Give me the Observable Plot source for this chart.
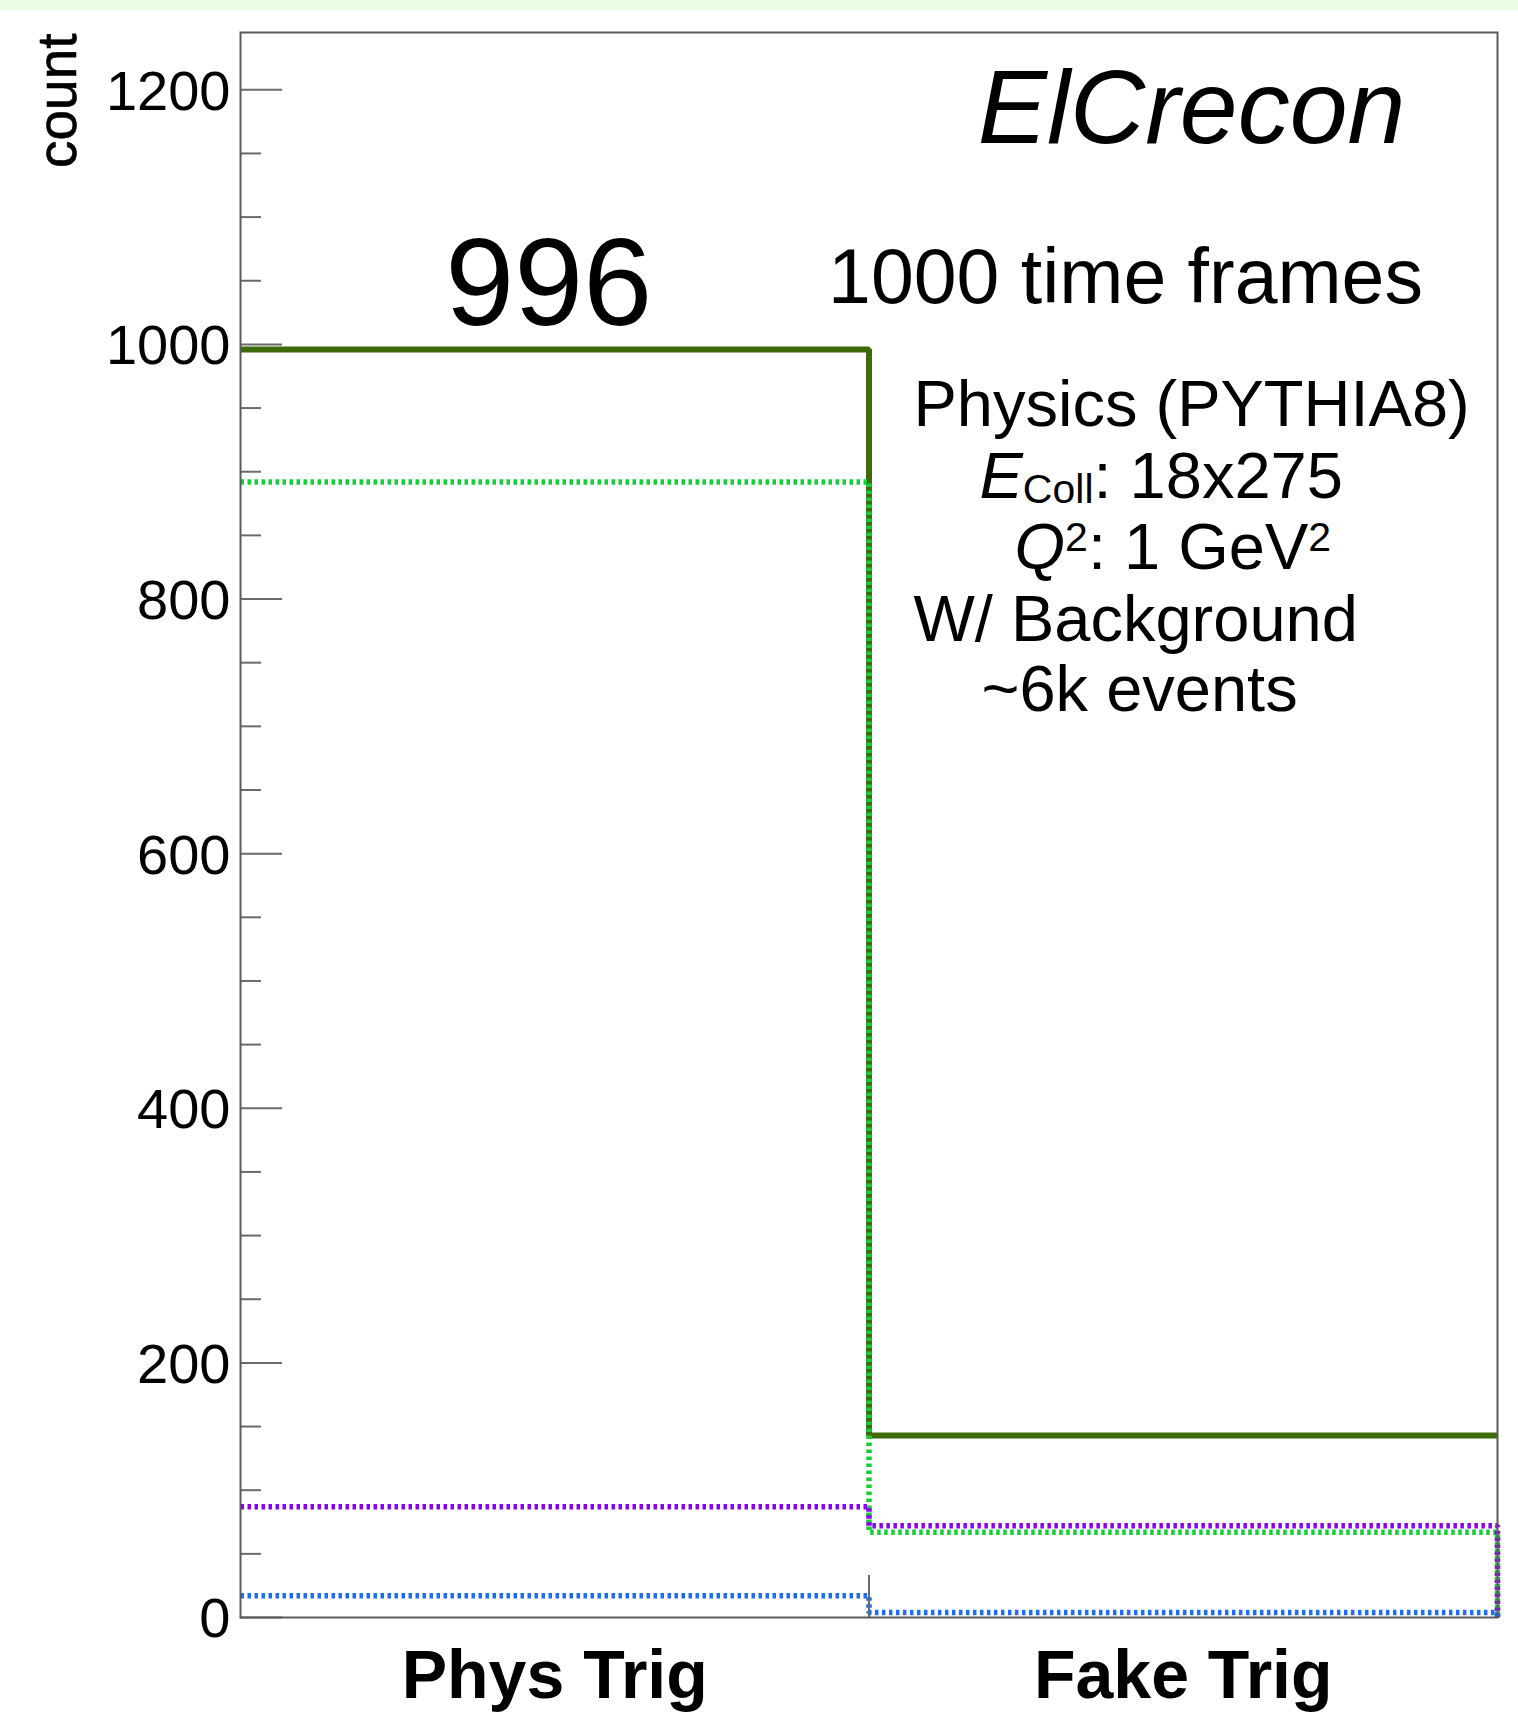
<!DOCTYPE html>
<html><head><meta charset="utf-8">
<script src="https://cdn.jsdelivr.net/npm/d3@7"></script>
<script src="https://cdn.jsdelivr.net/npm/@observablehq/plot@0.6"></script>
<style>
html,body{margin:0;padding:0;background:#fff;}
#band{height:10px;background:#ebfce2;}
#chart svg{display:block;}
</style></head><body>
<div id="band"></div>
<div id="chart"></div>
<script>
// ---- data ----
const categories = ["Phys Trig", "Fake Trig"];
const totalCounts = [996, 143];   // solid dark green (sum)
const greenCounts = [892, 67];    // dotted green
const purpleCounts = [87, 72];    // dotted purple
const blueCounts = [17, 4];       // dotted blue
const yMax = 1245;
const majorTicks = [0, 200, 400, 600, 800, 1000, 1200];
const minorTicks = [50, 100, 150, 250, 300, 350, 450, 500, 550, 650, 700, 750, 850, 900, 950, 1050, 1100, 1150];
const yLabel = "count";
const title = "ElCrecon";
const subtitle = "1000 time frames";
const infoLines = ["Physics (PYTHIA8)", "EColl: 18x275", "Q2: 1 GeV2", "W/ Background", "~6k events"];
const richText = {
  "EColl: 18x275": [{t: "E", italic: true}, {t: "Coll", sub: true}, {t: ": 18x275"}],
  "Q2: 1 GeV2": [{t: "Q", italic: true}, {t: "2", sup: true}, {t: ": 1 GeV"}, {t: "2", sup: true}]
};

// ---- histogram outlines built from bin values ----
function steps(vals, dropAtEnd) {
  const pts = [];
  vals.forEach((v, i) => { pts.push({x: i, y: v}, {x: i + 1, y: v}); });
  if (dropAtEnd) pts.push({x: vals.length, y: 0});
  return pts;
}

const FONT = "'Liberation Sans', Arial, Helvetica, sans-serif";
const dotted = {strokeWidth: 5.5, strokeDasharray: "3.5 3.5", strokeLinecap: "butt", strokeLinejoin: "miter"};

const infoPos = [[673, 393], [739, 465], [774, 536], [673, 608], [741, 678]];

const svg = Plot.plot({
  width: 1518,
  height: 1718,
  marginLeft: 240,
  marginRight: 21,
  marginTop: 22,
  marginBottom: 111,
  style: {fontFamily: FONT, background: "white", color: "black"},
  x: {domain: [0, categories.length], label: null},
  y: {domain: [0, yMax], label: null},
  marks: [
    // histograms
    Plot.line(steps(totalCounts, false), {x: "x", y: "y", stroke: "#3d6b0a", strokeWidth: 6, strokeLinecap: "butt", strokeLinejoin: "miter"}),
    Plot.line(steps(greenCounts, true), {x: "x", y: "y", stroke: "#14cf36", ...dotted}),
    Plot.line(steps(purpleCounts, true), {x: "x", y: "y", stroke: "#8b00f5", ...dotted}),
    Plot.line(steps(blueCounts, true), {x: "x", y: "y", stroke: "#1e6cf5", ...dotted}),
    // y axis ticks (inward) and labels
    Plot.axisY({ticks: majorTicks, tickSize: -42, tickFormat: () => "", label: null, stroke: "#6a6a6a", strokeWidth: 2}),
    Plot.axisY({ticks: minorTicks, tickSize: -21, tickFormat: () => "", label: null, stroke: "#6a6a6a", strokeWidth: 2}),
    Plot.axisY({ticks: majorTicks, tickSize: 0, tickPadding: 10, tickFormat: d => String(d), label: null,
      fontSize: 56, dy: 2, fill: "black", stroke: "black", strokeWidth: 0.6}),
    // x axis: bin boundary tick and category labels
    Plot.axisX({ticks: [1], tickSize: -42, tickFormat: () => "", label: null, stroke: "#6a6a6a", strokeWidth: 2}),
    Plot.axisX({ticks: categories.map((c, i) => i + 0.5), tickSize: 0, tickPadding: 32, label: null,
      tickFormat: t => categories[Math.floor(t)], fontSize: 68, fontWeight: "bold", fill: "black"}),
    // y label
    Plot.text([yLabel], {frameAnchor: "top-left", text: d => d, rotate: -90, textAnchor: "end", lineAnchor: "bottom",
      dx: -165, dy: 1, fontSize: 55, fill: "black", stroke: "black", strokeWidth: 0.6}),
    // bin total label on first bin
    Plot.text([0], {x: i => i + 0.5, y: i => totalCounts[i], text: i => String(totalCounts[i]),
      lineAnchor: "bottom", dy: -25, dx: -6, fontSize: 124, fill: "black"}),
    // annotations
    Plot.text([title], {frameAnchor: "top-left", text: d => d, textAnchor: "middle", lineAnchor: "bottom",
      dx: 951, dy: 110, fontSize: 104, fontStyle: "italic", fill: "black"}),
    Plot.text([subtitle], {frameAnchor: "top-left", text: d => d, textAnchor: "middle", lineAnchor: "bottom",
      dx: 885, dy: 270, fontSize: 77, fill: "black"}),
    ...infoLines.map((line, i) => Plot.text([line], {frameAnchor: "top-left", text: d => d, textAnchor: "start",
      lineAnchor: "bottom", dx: infoPos[i][0], dy: infoPos[i][1], fontSize: 65, fill: "black"})),
    // frame
    Plot.frame({stroke: "#5a5a5a", strokeWidth: 2})
  ]
});

// rich text (italic, sub/superscripts)
for (const el of svg.querySelectorAll("text")) {
  const segs = richText[el.textContent];
  if (!segs) continue;
  el.textContent = "";
  let shift = 0;
  for (const s of segs) {
    const ts = document.createElementNS("http://www.w3.org/2000/svg", "tspan");
    let target = 0;
    if (s.sub) { ts.setAttribute("font-size", "41"); target = 5; }
    if (s.sup) { ts.setAttribute("font-size", "41"); target = -18; }
    if (s.italic) ts.setAttribute("font-style", "italic");
    if (target !== shift) { ts.setAttribute("dy", String(target - shift)); shift = target; }
    ts.textContent = s.t;
    el.appendChild(ts);
  }
}

document.getElementById("chart").appendChild(svg);
</script>
</body></html>
